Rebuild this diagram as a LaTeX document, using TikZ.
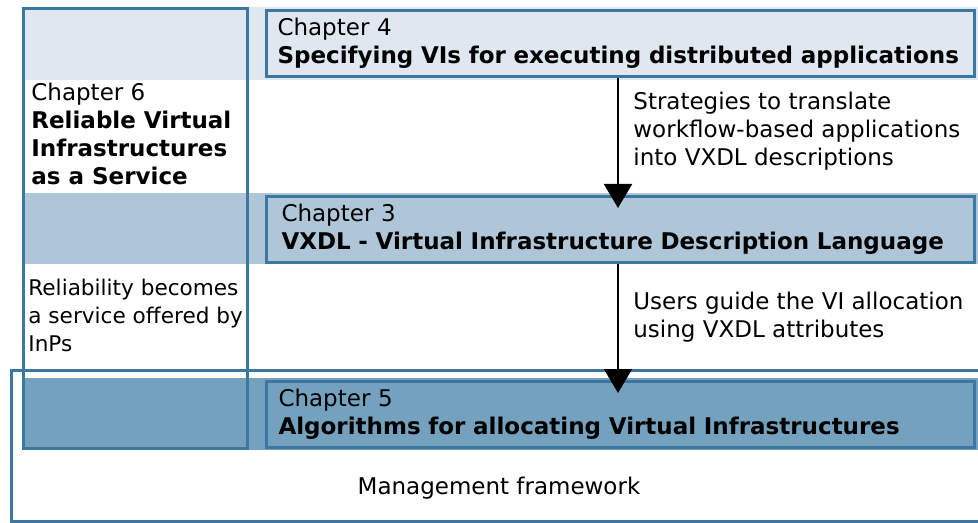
\documentclass[tikz,border=0pt]{standalone}
\usepackage{fontspec}
\setmainfont{DejaVu Sans}
\usetikzlibrary{arrows.meta,positioning}
\definecolor{frame}{HTML}{3B77A0}
\definecolor{bandA}{HTML}{DFE8F0}
\definecolor{bandB}{HTML}{AEC6D8}
\definecolor{bandC}{HTML}{74A1BD}

\tikzset{
	txt/.style={font=\fontsize{11.5}{14}\selectfont, inner sep=0pt, align=left},
	chap/.style={txt, draw=frame, line width=1.5pt, anchor=north west, text width=343pt, inner xsep=5.5pt, minimum height=33pt},
	frameline/.style={draw=frame, line width=1.5pt},
	flow/.style={-{Triangle[width=14pt,length=12pt]}, line width=1pt, shorten >=-6.5pt}
}

\begin{document}
\begin{tikzpicture}[x=0.5pt,y=-0.5pt]
\useasboundingbox (0,0) rectangle (978,523);
\fill[bandA] (22,7) rectangle (978,80);
\fill[bandB] (22,193) rectangle (978,264);
\fill[bandC] (22,378) rectangle (978,450);
\draw[frameline] (23.5,8.5) rectangle (247.5,448.5);
\draw[frameline] (11.5,370) rectangle (990,521);

\node[chap, fill=bandA] (ch4) at (265,9) {Chapter 4\\\textbf{Specifying VIs for executing distributed applications}};
\node[chap, fill=bandB, text width=339pt, inner xsep=7.5pt] (ch3) at (265,195) {Chapter 3\\\textbf{VXDL - Virtual Infrastructure Description Language}};
\node[chap, fill=bandC, text width=342pt, inner xsep=6pt] (ch5) at (265,380) {Chapter 5\\\textbf{Algorithms for allocating Virtual Infrastructures}};

\coordinate (ax) at (618,0);
\draw[flow] (ch4.south -| ax) -- (ch3.north -| ax);
\draw[flow] (ch3.south -| ax) -- (ch5.north -| ax);

\node[txt, anchor=west] (strat) at (633,131) {Strategies to translate\\workflow-based applications\\into VXDL descriptions};
\node[txt, anchor=west] (users) at (633,317.5) {Users guide the VI allocation\\using VXDL attributes};
\node[txt, anchor=west] (ch6) at (31,133.5) {Chapter 6\\\textbf{Reliable Virtual}\\\textbf{Infrastructures}\\\textbf{as a Service}};
\node[txt, anchor=west, font=\fontsize{10.8}{14}\selectfont] (rel) at (28,315) {Reliability becomes\\a service offered by\\InPs};
\node[txt] (mgmt) at (499,488) {Management framework};
\end{tikzpicture}
\end{document}
